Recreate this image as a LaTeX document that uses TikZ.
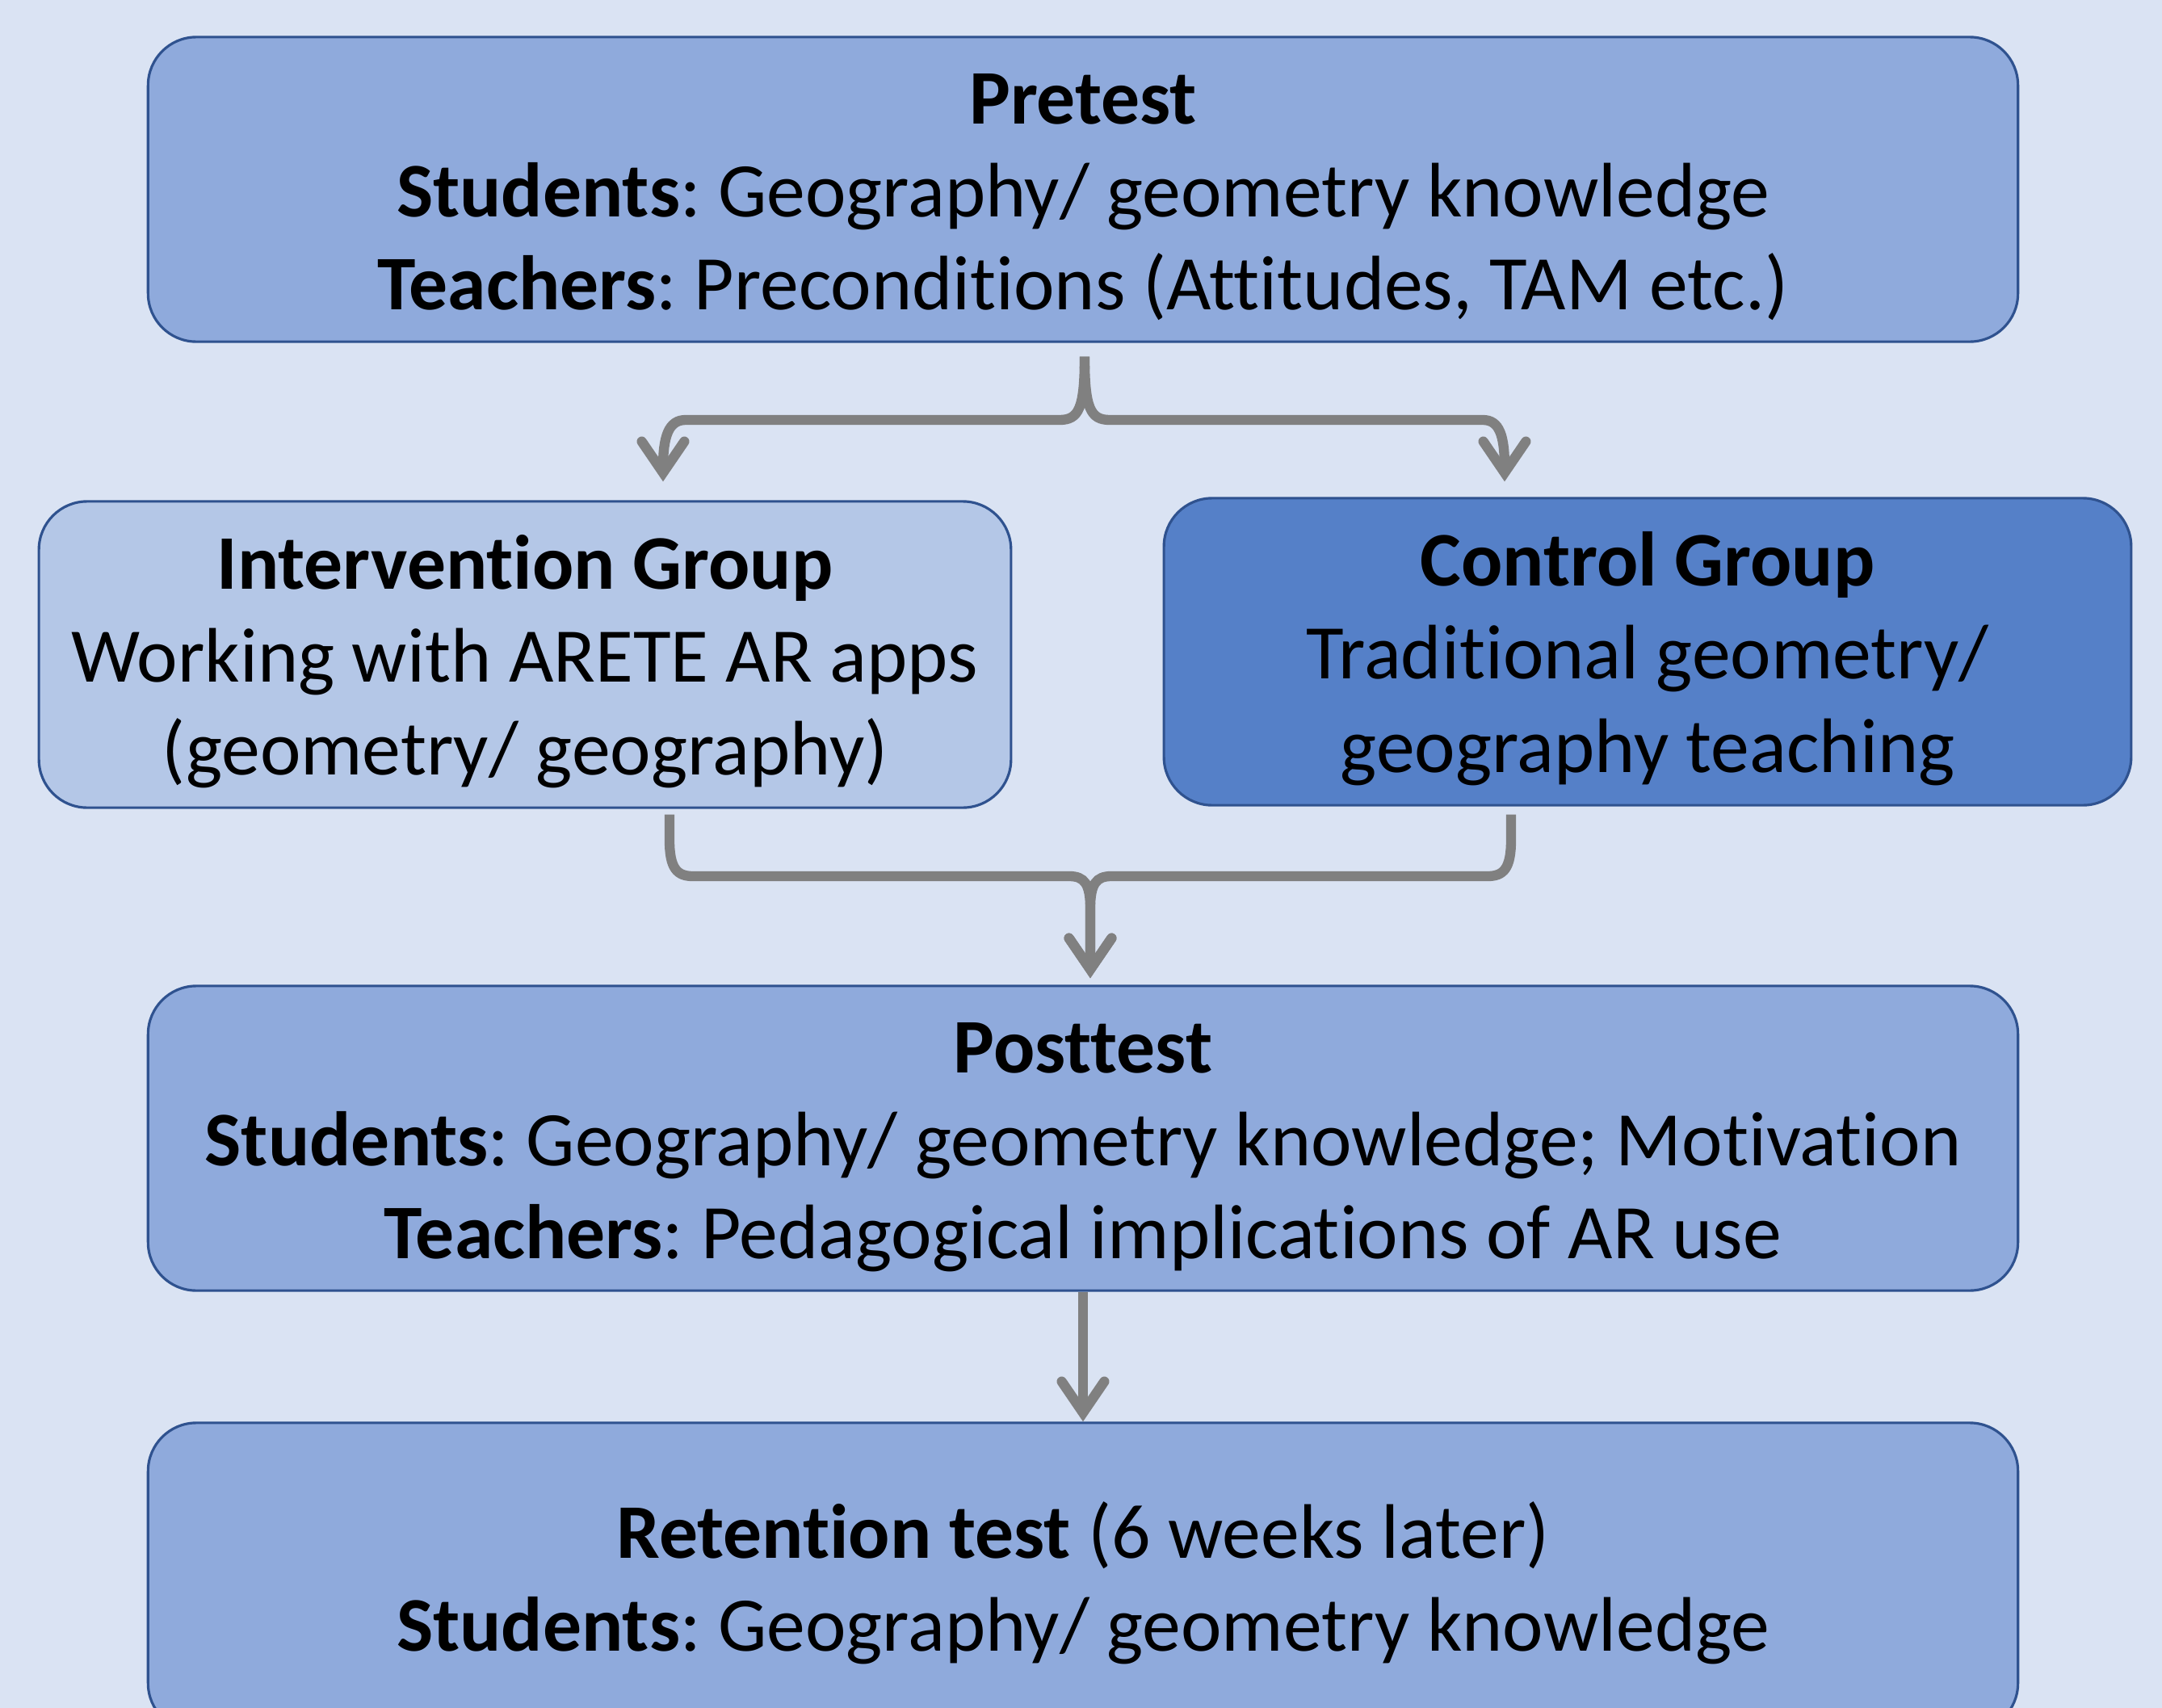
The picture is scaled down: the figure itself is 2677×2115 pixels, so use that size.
\documentclass[tikz,border=0pt]{standalone}
\usepackage{fontspec}
\setmainfont{Carlito}[Ligatures={NoCommon}]
\usetikzlibrary{arrows.meta,calc}
\definecolor{bgblue}{HTML}{DAE3F3}
\definecolor{midblue}{HTML}{8FAADC}
\definecolor{lightblue}{HTML}{B4C7E7}
\definecolor{darkblue}{HTML}{5580C8}
\definecolor{boxline}{HTML}{2F528F}
\definecolor{conngray}{HTML}{808080}
% centred stack of lines, spaced by strut rows; the taller first strut
% sets the block a little lower in its box
\newcommand{\linestack}[1]{\begin{tabular}{@{}c@{}}%
  \rule{0pt}{\dimexpr\ht\strutbox+6.2pt\relax}#1\end{tabular}}
\frenchspacing
\begin{document}
\begin{tikzpicture}[x=0.01cm,y=-0.01cm,
  box/.style={draw=boxline, line width=0.9pt, rounded corners=17pt,
    inner sep=0pt, text=black,
    font=\fontsize{27.2}{32.8}\selectfont},
  wide/.style={minimum width=23.14cm, minimum height=3.77cm},
  conn/.style={draw=conngray, line width=3.5pt,
    -{Straight Barb[length=11pt,width=15pt,line cap=round]}}]
% canvas
\fill[bgblue] (0,0) rectangle (2677,2115);
\useasboundingbox (0,0) rectangle (2677,2115);
\clip (0,0) rectangle (2677,2115);

% boxes
\node[box, wide, fill=midblue] (pre) at (1341,234.5)
  {\linestack{\textbf{Pretest}\\
   \textbf{Students}: Geography/ geometry knowledge\\
   \textbf{Teachers}: Preconditions (Attitudes, TAM etc.)}};
\node[box, fill=lightblue, minimum width=12.03cm, minimum height=3.79cm] (int) at (650,810.5)
  {\linestack{\textbf{Intervention Group}\\
   Working with ARETE AR apps\\
   (geometry/ geography)}};
\node[box, fill=darkblue, minimum width=11.97cm, minimum height=3.80cm] (ctl) at (2040,807)
  {\linestack{\textbf{Control Group}\\
   Traditional geometry/\\
   geography teaching}};
\node[box, wide, fill=midblue] (post) at (1341,1409.5)
  {\linestack{\textbf{Posttest}\\
   \textbf{Students}: Geography/ geometry knowledge; Motivation\\
   \textbf{Teachers}: Pedagogical implications of AR use}};
\node[box, wide, fill=midblue, minimum height=3.82cm] (ret) at (1341,1953)
  {\linestack{\textbf{Retention test} (6 weeks later)\\
   \textbf{Students}: Geography/ geometry knowledge}};

% split from the pretest into both groups
\draw[conn] ($(pre.south)+(2,17)$) .. controls (1343,505) and (1336,520) .. (1312,520)
  -- (849,520) .. controls (828,520) and (821,540) .. ($(int.north)+(171,-23)$);
\draw[conn] ($(pre.south)+(2,17)$) .. controls (1343,505) and (1350,520) .. (1374,520)
  -- (1836,520) .. controls (1857,520) and (1863,540) .. ($(ctl.north)+(-177,-19)$);

% both groups merge into the posttest
\draw[conn] ($(int.south)+(179,7)$) -- (829,1040) .. controls (829,1075) and (838,1085) .. (858,1085)
  -- (1324,1085) .. controls (1343,1085) and (1350,1095) .. (1350,1125)
  -- ($(post.north)+(9,-8)$);
\draw[conn] ($(ctl.south)+(-169,10)$) -- (1871,1040) .. controls (1871,1075) and (1862,1085) .. (1842,1085)
  -- (1376,1085) .. controls (1357,1085) and (1350,1095) .. (1350,1125)
  -- ($(post.north)+(9,-8)$);

% posttest to retention test
\draw[conn] (post.south) -- (ret.north);
\end{tikzpicture}
\end{document}
